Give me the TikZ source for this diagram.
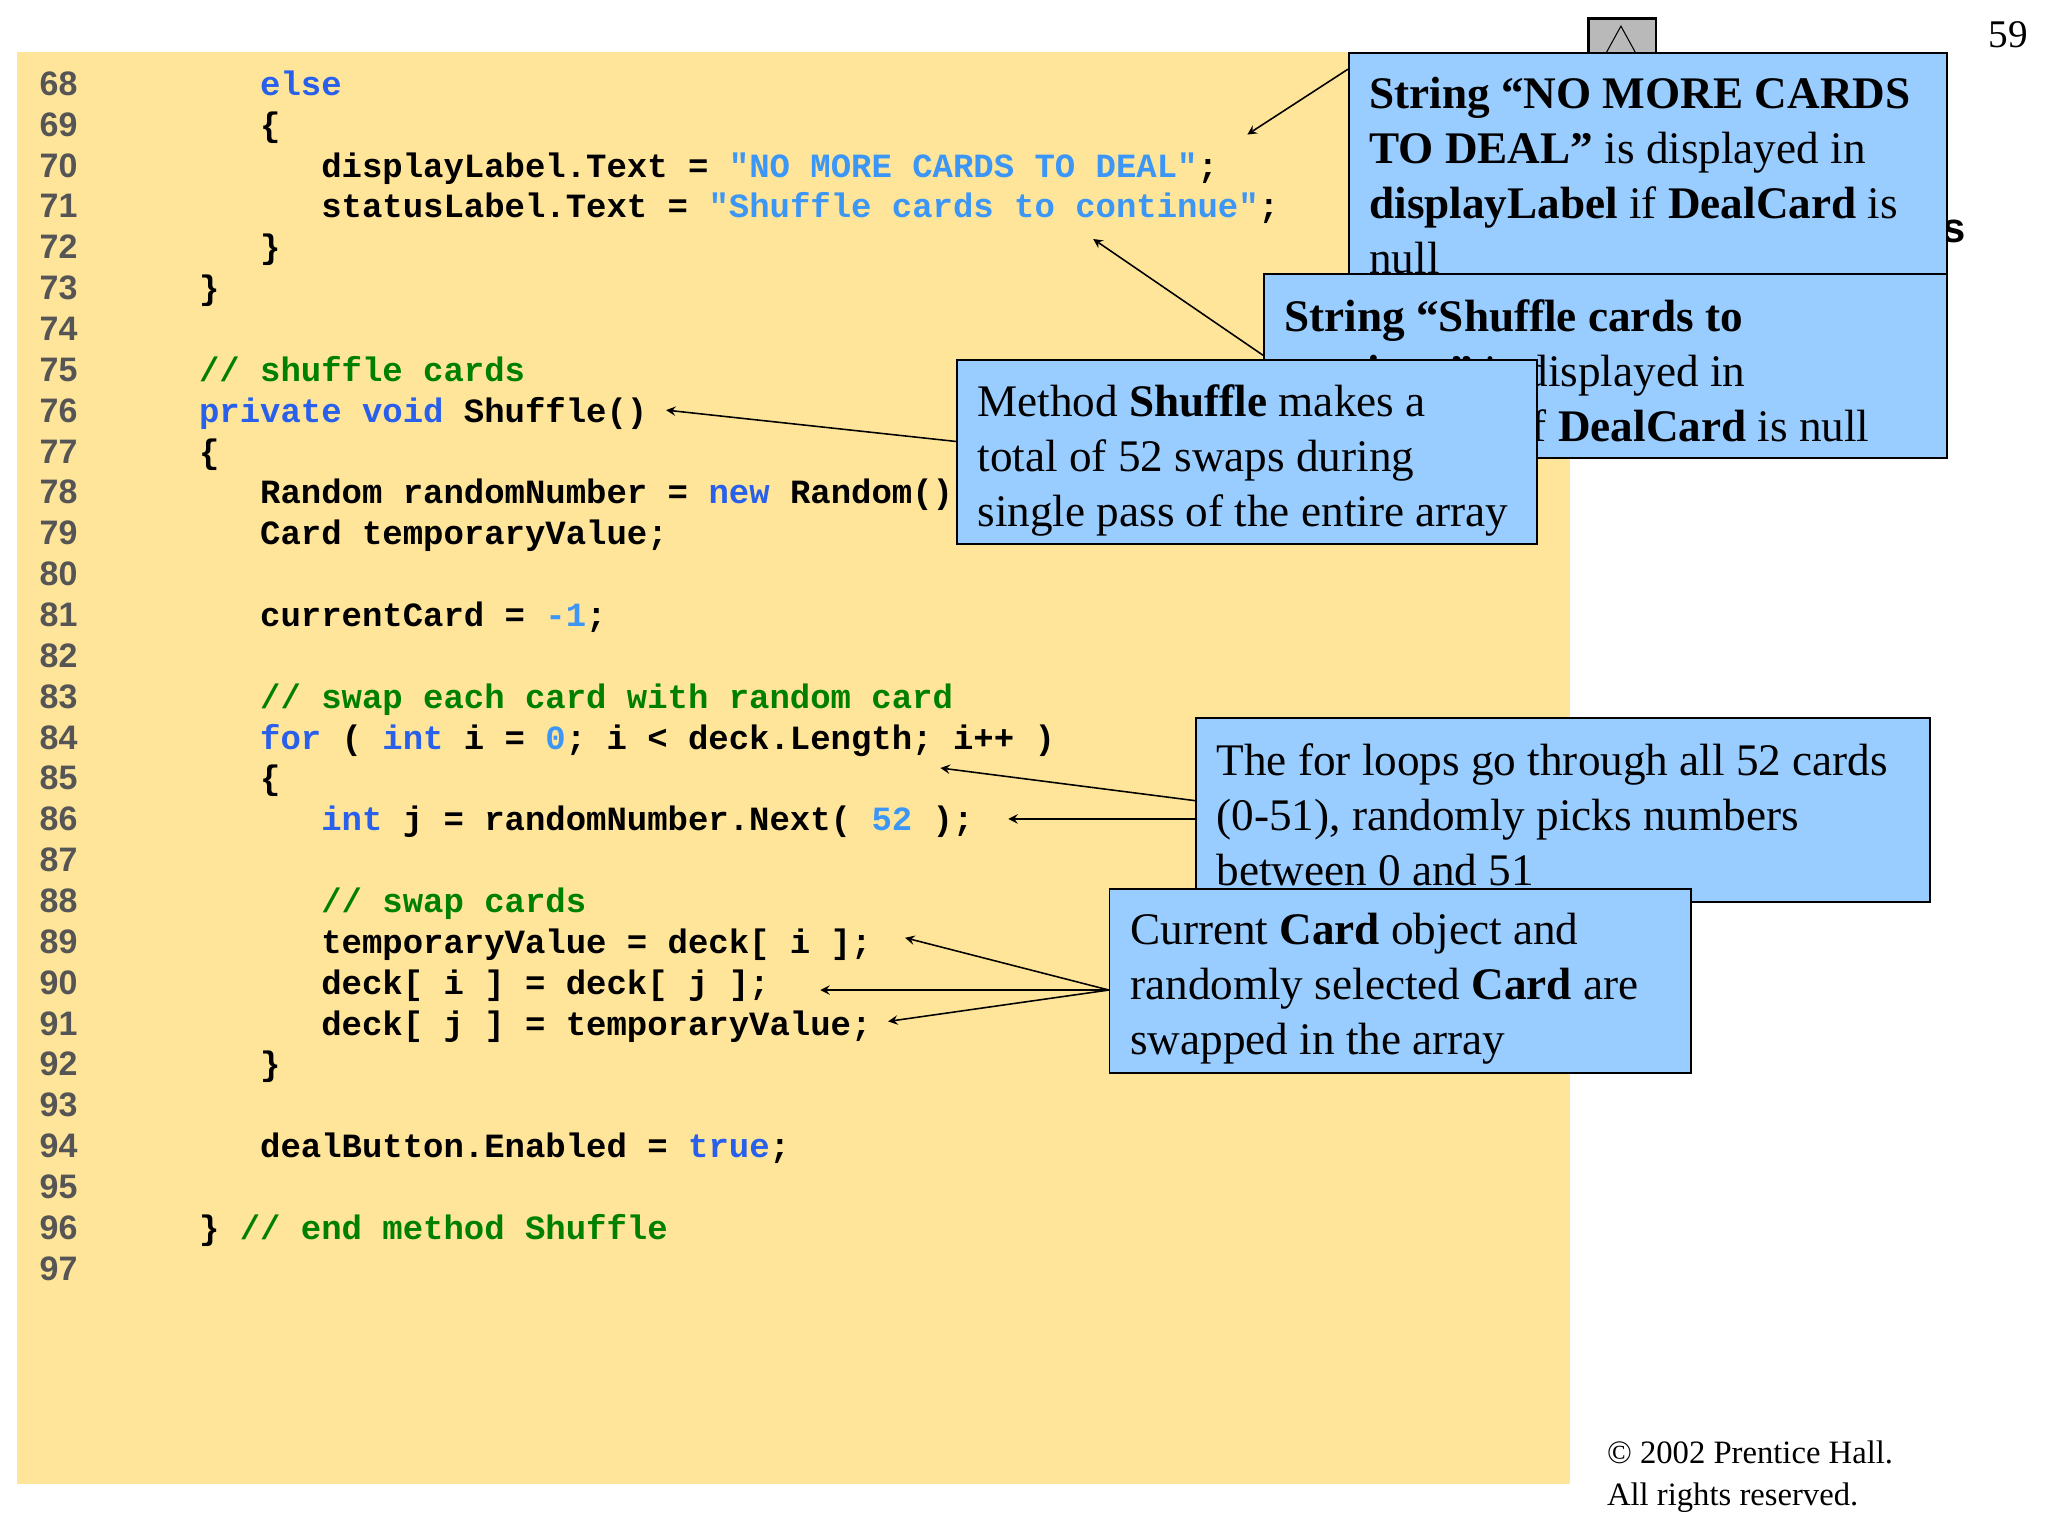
\documentclass[tikz,border=0pt]{standalone}
\usepackage{fontspec}
\setmainfont{Liberation Serif}
\newfontfamily\codefont{Liberation Mono}
\newfontfamily\numfont{Liberation Sans}
\usetikzlibrary{arrows}
\definecolor{pagebg}{RGB}{255,229,153}
\definecolor{callbg}{RGB}{153,204,255}
\definecolor{kwblue}{RGB}{40,95,235}
\definecolor{strblue}{RGB}{60,150,245}
\definecolor{cmtgreen}{RGB}{0,128,0}
\definecolor{numgray}{RGB}{85,85,85}
\tikzstyle{arrow} = [->,>=stealth,semithick]
\tikzstyle{callout} = [rectangle, draw=black, fill=callbg, line width=0.6pt, anchor=north west, inner sep=0]
\tikzstyle{calltext} = [anchor=north west, inner sep=0, align=left, font=\fontsize{17.3}{21}\selectfont]
\tikzstyle{code} = [anchor=base west, inner sep=0, font=\codefont\bfseries\fontsize{13}{15.6}\selectfont]
\tikzstyle{lnum} = [anchor=base west, inner sep=0, text=numgray, font=\numfont\bfseries\fontsize{13}{15.6}\selectfont]
\newcommand\kw[1]{\textcolor{kwblue}{#1}}
\newcommand\str[1]{\textcolor{strblue}{#1}}
\newcommand\cmt[1]{\textcolor{cmtgreen}{#1}}
% line number, indent, code
\newcommand\codeln[3]{%
  \node (n#1) [lnum] at (30,{73+31.28*(#1-68)}) {#1};
  \node (c#1) [code] at ({152+15.6*#2},{73+31.28*(#1-68)}) {#3};}
\begin{document}
\begin{tikzpicture}[x=0.5pt, y=-0.5pt]
    \useasboundingbox (0,0) rectangle (1568,1176);
    \fill[pagebg] (13,40) rectangle (1202,1136);

    % scroll button and page number
    \node (button) [draw=black, line width=1pt, fill=gray!55, minimum width=26pt, minimum height=13.5pt, anchor=north west, inner sep=0] at (1215,13) {};
    \draw (1230,40) -- (1241,20) -- (1252,40);
    \node (pagenum) [anchor=base east, inner sep=0, font=\fontsize{15}{18}\selectfont] at (1553,36) {59};
    \node (titleS) [anchor=base west, inner sep=0, font=\numfont\bfseries\fontsize{16}{18}\selectfont] at (1487,186) {s};

    \codeln{68}{3}{\kw{else}}
    \codeln{69}{3}{\{}
    \codeln{70}{6}{displayLabel.Text = \str{"NO MORE CARDS TO DEAL"};}
    \codeln{71}{6}{statusLabel.Text = \str{"Shuffle cards to continue"};}
    \codeln{72}{3}{\}}
    \codeln{73}{0}{\}}
    \codeln{74}{0}{}
    \codeln{75}{0}{\cmt{// shuffle cards}}
    \codeln{76}{0}{\kw{private} \kw{void} Shuffle()}
    \codeln{77}{0}{\{}
    \codeln{78}{3}{Random randomNumber = \kw{new} Random();}
    \codeln{79}{3}{Card temporaryValue;}
    \codeln{80}{0}{}
    \codeln{81}{3}{currentCard = \str{-1};}
    \codeln{82}{0}{}
    \codeln{83}{3}{\cmt{// swap each card with random card}}
    \codeln{84}{3}{\kw{for} ( \kw{int} i = \str{0}; i < deck.Length; i++ )}
    \codeln{85}{3}{\{}
    \codeln{86}{6}{\kw{int} j = randomNumber.Next( \str{52} );}
    \codeln{87}{0}{}
    \codeln{88}{6}{\cmt{// swap cards}}
    \codeln{89}{6}{temporaryValue = deck[ i ];}
    \codeln{90}{6}{deck[ i ] = deck[ j ];}
    \codeln{91}{6}{deck[ j ] = temporaryValue;}
    \codeln{92}{3}{\}}
    \codeln{93}{0}{}
    \codeln{94}{3}{dealButton.Enabled = \kw{true};}
    \codeln{95}{0}{}
    \codeln{96}{0}{\} \cmt{// end method Shuffle}}
    \codeln{97}{0}{}

    % arrow tips and feet
    \coordinate (tipdeal) at (955,103);
    \coordinate (tipstatus) at (837,183);
    \coordinate (tipshuffle) at (510,314);
    \coordinate (tipfor) at (720,588);
    \coordinate (tipnext) at (772,627);
    \coordinate (tipswapa) at (693,718);
    \coordinate (tipswapb) at (628,758);
    \coordinate (tipswapc) at (680,782);
    \coordinate (footdeal) at (1032,53);
    \coordinate (footstatus) at (967,272);
    \coordinate (footshuffle) at (732,338);
    \coordinate (footfor) at (915,613);
    \coordinate (footnext) at (915,627);
    \coordinate (footswap) at (849,758);

    % callouts
    \node (dealbox) [callout, minimum width=229pt, minimum height=85pt] at (1032,40) {};
    \node (dealtext) [calltext] at (1048,59) {\textbf{String “NO MORE CARDS}\\\textbf{TO DEAL”} is displayed in\\\textbf{displayLabel} if \textbf{DealCard} is\\null};
    \node (statusbox) [callout, minimum width=261.5pt, minimum height=70.5pt] at (967,209) {};
    \node (statustext) [calltext] at (983,229) {\textbf{String “Shuffle cards to}\\\textbf{continue”} is displayed in\\\textbf{statusLabel} if \textbf{DealCard} is null};
    \node (shufflebox) [callout, minimum width=222pt, minimum height=70.5pt] at (732,275) {};
    \node (shuffletext) [calltext] at (748,294) {Method \textbf{Shuffle} makes a\\total of 52 swaps during\\single pass of the entire array};
    \node (forbox) [callout, minimum width=281pt, minimum height=70.5pt] at (915,549) {};
    \node (fortext) [calltext] at (931,569) {The for loops go through all 52 cards\\(0-51), randomly picks numbers\\between 0 and 51};
    \node (swapbox) [callout, minimum width=222.5pt, minimum height=70.5pt] at (849,680) {};
    \node (swaptext) [calltext] at (865,699) {Current \textbf{Card} object and\\randomly selected \textbf{Card} are\\swapped in the array};

    \draw [arrow] (footdeal) -- (tipdeal);
    \draw [arrow] (footstatus) -- (tipstatus);
    \draw [arrow] (footshuffle) -- (tipshuffle);
    \draw [arrow] (footfor) -- (tipfor);
    \draw [arrow] (footnext) -- (tipnext);
    \draw [arrow] (footswap) -- (tipswapa);
    \draw [arrow] (footswap) -- (tipswapb);
    \draw [arrow] (footswap) -- (tipswapc);

    \node (copy) [anchor=north west, inner sep=0, align=left, font=\fontsize{12.5}{16}\selectfont] at (1230,1103) {\textcopyright\ 2002 Prentice Hall.\\All rights reserved.};
\end{tikzpicture}
\end{document}
